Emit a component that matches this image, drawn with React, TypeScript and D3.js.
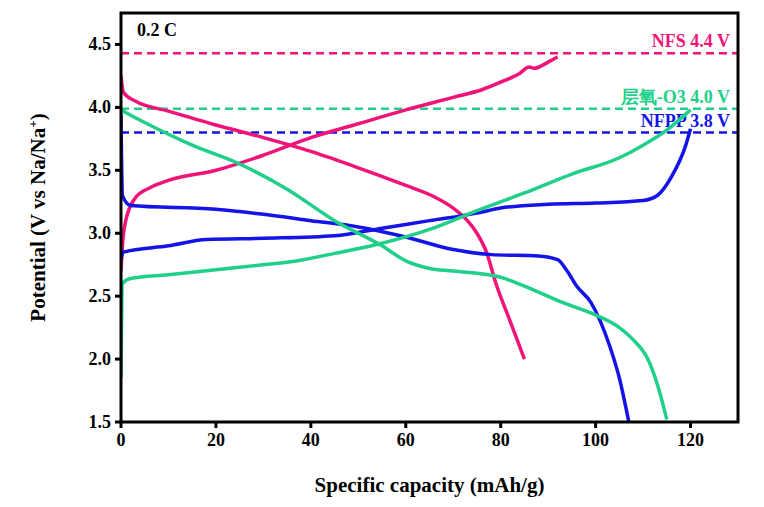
import React from "react";
import * as d3 from "d3";

const pinkCharge: [number, number][] = [[0,2.7],[0.4,2.95],[1,3.1],[3,3.28],[6,3.36],[10,3.42],[20,3.5],[30,3.62],[40,3.76],[50,3.87],[60,3.98],[70,4.08],[76,4.14],[80,4.2],[84,4.27],[86,4.32],[87,4.31],[90,4.36],[92,4.4]];
const pinkDis: [number, number][] = [[0,4.25],[0.5,4.12],[3,4.05],[10,3.97],[20,3.86],[30,3.76],[40,3.65],[50,3.52],[60,3.38],[66,3.29],[70,3.2],[73,3.1],[75,3.0],[77,2.85],[79,2.6],[82,2.3],[85,2.0]];
const blueCharge: [number, number][] = [[0,2.8],[0.5,2.85],[10,2.9],[18,2.95],[30,2.96],[45,2.98],[55,3.04],[65,3.1],[75,3.16],[80,3.2],[90,3.23],[100,3.24],[110,3.26],[113,3.3],[116,3.45],[119,3.7],[120,3.83]];
const blueDis: [number, number][] = [[0,3.95],[0.3,3.3],[2,3.22],[20,3.19],[30,3.15],[40,3.1],[50,3.05],[60,2.97],[70,2.87],[78,2.83],[88,2.82],[92,2.79],[94,2.7],[96,2.58],[99,2.45],[101,2.3],[103,2.1],[105,1.85],[107,1.5]];
const greenCharge: [number, number][] = [[0,1.85],[0.3,2.6],[2,2.64],[10,2.67],[20,2.71],[30,2.75],[37,2.78],[45,2.84],[55,2.92],[65,3.03],[75,3.18],[85,3.32],[95,3.47],[105,3.6],[110,3.7],[115,3.82],[120,3.98]];
const greenDis: [number, number][] = [[0,3.98],[5,3.88],[15,3.7],[25,3.55],[35,3.35],[45,3.1],[55,2.9],[60,2.78],[65,2.72],[70,2.7],[80,2.65],[85,2.58],[93,2.45],[100,2.35],[105,2.25],[108,2.15],[111,2.0],[113,1.8],[115,1.52]];

const xTicks = [0, 20, 40, 60, 80, 100, 120];
const yTicks = [1.5, 2.0, 2.5, 3.0, 3.5, 4.0, 4.5];
const refs = [
  { v: 4.43, label: "NFS 4.4 V", color: "#f01478" },
  { v: 3.99, label: "层氧-O3 4.0 V", color: "#1fcf8a" },
  { v: 3.8, label: "NFPP 3.8 V", color: "#1414e6" },
];

export default function App() {
  const L = 121, R = 738, T = 13, B = 422;
  const x = d3.scaleLinear().domain([0, 130]).range([L, R]);
  const y = d3.scaleLinear().domain([1.5, 4.75]).range([B, T]);
  const line = d3.line<[number, number]>().x(d => x(d[0])).y(d => y(d[1])).curve(d3.curveMonotoneX);
  const series = [
    { d: pinkCharge, c: "#f01478" }, { d: pinkDis, c: "#f01478" },
    { d: blueCharge, c: "#1414e6" }, { d: blueDis, c: "#1414e6" },
    { d: greenCharge, c: "#1fcf8a" }, { d: greenDis, c: "#1fcf8a" },
  ];
  return (
    <svg width={764} height={507} style={{ position: "absolute", left: 0, top: 0, fontFamily: "Liberation Serif, DejaVu Serif, serif", fontWeight: "bold" }}>
      <defs><clipPath id="cp"><rect x={L} y={T} width={R - L} height={B - T} /></clipPath></defs>
      {refs.map(r => (
        <g key={r.label}>
          <line x1={L} x2={R} y1={y(r.v)} y2={y(r.v)} stroke={r.color} strokeWidth={2.5} strokeDasharray="8,5" />
          <text x={R - 8} y={y(r.v) - 6} textAnchor="end" fontSize={18} fill={r.color}>{r.label}</text>
        </g>
      ))}
      <g clipPath="url(#cp)">
        {series.map((s, i) => (
          <path key={i} d={line(s.d) || ""} fill="none" stroke={s.c} strokeWidth={3.5} strokeLinejoin="round" />
        ))}
      </g>
      <rect x={L} y={T} width={R - L} height={B - T} fill="none" stroke="#000" strokeWidth={3} />
      {xTicks.map(t => (
        <g key={t}>
          <line x1={x(t)} x2={x(t)} y1={B} y2={B + 6} stroke="#000" strokeWidth={3} />
          <text x={x(t)} y={B + 24} textAnchor="middle" fontSize={18}>{t}</text>
        </g>
      ))}
      {yTicks.map(t => (
        <g key={t}>
          <line x1={L - 6} x2={L} y1={y(t)} y2={y(t)} stroke="#000" strokeWidth={3} />
          <text x={L - 10} y={y(t) + 6} textAnchor="end" fontSize={18}>{t.toFixed(1)}</text>
        </g>
      ))}
      <text x={137} y={36} fontSize={18}>0.2 C</text>
      <text x={(L + R) / 2} y={492} textAnchor="middle" fontSize={21}>Specific capacity (mAh/g)</text>
      <text transform={`translate(45,${(T + B) / 2}) rotate(-90)`} textAnchor="middle" fontSize={21}>
        Potential (V vs Na/Na<tspan fontSize={13} dy={-8}>+</tspan><tspan dy={8}>)</tspan>
      </text>
    </svg>
  );
}
